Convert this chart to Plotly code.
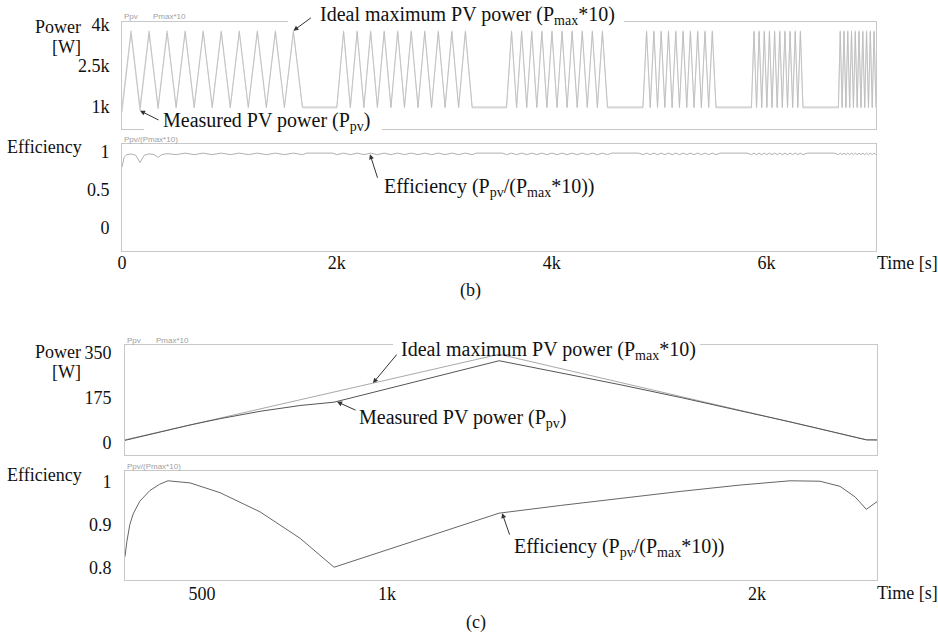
import plotly.graph_objects as go

FW, FH = 938, 637

# ---------------- panel (b) data ----------------
b_t = [
    0, 84, 168, 252, 336, 420, 504, 588, 672, 756, 840, 924, 1008, 1092, 1176, 1260, 1344, 1428, 1512, 1596, 1680,
    2000, 2063, 2126, 2189, 2252, 2315, 2378, 2441, 2504, 2567, 2630, 2693, 2756, 2819, 2882, 2945, 3008, 3071, 3134, 3197, 3260,
    3580, 3627, 3674, 3721, 3768, 3815, 3862, 3909, 3956, 4003, 4050, 4097, 4144, 4191, 4238, 4285, 4332, 4379, 4426, 4473, 4520,
    4850, 4884, 4918, 4952, 4986, 5020, 5054, 5088, 5122, 5156, 5190, 5224, 5258, 5292, 5326, 5360, 5394, 5428, 5462, 5496, 5530,
    5860, 5884, 5908, 5932, 5956, 5980, 6004, 6028, 6052, 6076, 6100, 6124, 6148, 6172, 6196, 6220, 6244, 6268, 6292, 6316, 6340,
    6670, 6687, 6705, 6722, 6740, 6757, 6775, 6792, 6810, 6827, 6845, 6862, 6880, 6897, 6915, 6932, 6950, 6967, 6985, 7002, 7020,
]
b_ideal = [
    1000, 3790, 1000, 3790, 1000, 3790, 1000, 3790, 1000, 3790, 1000, 3790, 1000, 3790, 1000, 3790, 1000, 3790, 1000, 3790, 1000,
    1000, 3790, 1000, 3790, 1000, 3790, 1000, 3790, 1000, 3790, 1000, 3790, 1000, 3790, 1000, 3790, 1000, 3790, 1000, 3790, 1000,
    1000, 3790, 1000, 3790, 1000, 3790, 1000, 3790, 1000, 3790, 1000, 3790, 1000, 3790, 1000, 3790, 1000, 3790, 1000, 3790, 1000,
    1000, 3790, 1000, 3790, 1000, 3790, 1000, 3790, 1000, 3790, 1000, 3790, 1000, 3790, 1000, 3790, 1000, 3790, 1000, 3790, 1000,
    1000, 3790, 1000, 3790, 1000, 3790, 1000, 3790, 1000, 3790, 1000, 3790, 1000, 3790, 1000, 3790, 1000, 3790, 1000, 3790, 1000,
    1000, 3790, 1000, 3790, 1000, 3790, 1000, 3790, 1000, 3790, 1000, 3790, 1000, 3790, 1000, 3790, 1000, 3790, 1000, 3790, 1000,
]
b_meas = [
    800, 3695, 860, 3695, 930, 3707, 965, 3733, 965, 3733, 965, 3733, 965, 3733, 965, 3733, 965, 3733, 965, 3733, 965,
    965, 3733, 965, 3733, 965, 3733, 965, 3733, 965, 3733, 965, 3733, 965, 3733, 965, 3733, 965, 3733, 965, 3733, 965,
    965, 3733, 965, 3733, 965, 3733, 965, 3733, 965, 3733, 965, 3733, 965, 3733, 965, 3733, 965, 3733, 965, 3733, 965,
    965, 3733, 965, 3733, 965, 3733, 965, 3733, 965, 3733, 965, 3733, 965, 3733, 965, 3733, 965, 3733, 965, 3733, 965,
    965, 3733, 965, 3733, 965, 3733, 965, 3733, 965, 3733, 965, 3733, 965, 3733, 965, 3733, 965, 3733, 965, 3733, 965,
    965, 3733, 965, 3733, 965, 3733, 965, 3733, 965, 3733, 965, 3733, 965, 3733, 965, 3733, 965, 3733, 965, 3733, 965,
]
b_eff = [
    0.80, 0.975, 0.86, 0.975, 0.93, 0.978, 0.965, 0.985, 0.965, 0.985, 0.965, 0.985, 0.965, 0.985, 0.965, 0.985, 0.965, 0.985, 0.965, 0.985, 0.965,
    0.965, 0.985, 0.965, 0.985, 0.965, 0.985, 0.965, 0.985, 0.965, 0.985, 0.965, 0.985, 0.965, 0.985, 0.965, 0.985, 0.965, 0.985, 0.965, 0.985, 0.965,
    0.965, 0.985, 0.965, 0.985, 0.965, 0.985, 0.965, 0.985, 0.965, 0.985, 0.965, 0.985, 0.965, 0.985, 0.965, 0.985, 0.965, 0.985, 0.965, 0.985, 0.965,
    0.965, 0.985, 0.965, 0.985, 0.965, 0.985, 0.965, 0.985, 0.965, 0.985, 0.965, 0.985, 0.965, 0.985, 0.965, 0.985, 0.965, 0.985, 0.965, 0.985, 0.965,
    0.965, 0.985, 0.965, 0.985, 0.965, 0.985, 0.965, 0.985, 0.965, 0.985, 0.965, 0.985, 0.965, 0.985, 0.965, 0.985, 0.965, 0.985, 0.965, 0.985, 0.965,
    0.965, 0.985, 0.965, 0.985, 0.965, 0.985, 0.965, 0.985, 0.965, 0.985, 0.965, 0.985, 0.965, 0.985, 0.965, 0.985, 0.965, 0.985, 0.965, 0.985, 0.965,
]
b_eff_extra_t = [20, 45, 130, 205, 300, 370, 1720, 1960, 3300, 3540, 4560, 4810, 5570, 5820, 6380, 6630]
b_eff_extra_v = [0.93, 0.965, 0.955, 0.955, 0.965, 0.965, 0.985, 0.985, 0.985, 0.985, 0.985, 0.985, 0.985, 0.985, 0.985, 0.985]

b_power_ticks = [1000, 2500, 4000]
b_power_ticktext = ["1k", "2.5k", "4k"]
b_eff_ticks = [0, 0.5, 1]
b_eff_ticktext = ["0", "0.5", "1"]
b_time_ticks = [0, 2000, 4000, 6000]
b_time_ticktext = ["0", "2k", "4k", "6k"]

# ---------------- panel (c) data ----------------
c_ideal_t = [292, 1303, 2297, 2324]
c_ideal_p = [12, 345, 12, 12]
c_t = [292, 297, 305, 314, 332, 359, 386, 408, 468, 549, 657, 765, 857, 1303,
       1468, 1630, 1792, 1954, 2089, 2170, 2224, 2265, 2295, 2324]
c_meas = [10, 11.7, 14.7, 17.8, 24.1, 33.4, 42.8, 50.4, 69.9, 94.3, 123, 145.6, 158.5, 319.8,
          273.8, 226.5, 177.2, 126, 81.9, 54.6, 36.1, 21.9, 11.9, 11.4]
c_eff = [0.825, 0.86, 0.90, 0.925, 0.955, 0.98, 0.995, 1.003, 0.998, 0.975, 0.93, 0.868, 0.80, 0.927,
         0.945, 0.962, 0.978, 0.993, 1.003, 1.002, 0.99, 0.965, 0.936, 0.954]

c_power_ticks = [0, 175, 350]
c_eff_ticks = [0.8, 0.9, 1]
c_eff_ticktext = ["0.8", "0.9", "1"]
c_time_ticks = [500, 1000, 2000]
c_time_ticktext = ["500", "1k", "2k"]

# ---------------- helpers (page pixel -> paper fraction) ----------------
def fx(p):
    return p / FW

def fy(p):
    return 1 - p / FH

SERIF = "Liberation Serif, Times New Roman, serif"
SANS = "Liberation Sans, Arial, sans-serif"
BOX = "#c8c8c8"

eff_pairs = sorted(zip(b_t + b_eff_extra_t, b_eff + b_eff_extra_v))
b_eff_t_all = [p[0] for p in eff_pairs]
b_eff_v_all = [p[1] for p in eff_pairs]

fig = go.Figure()
fig.add_trace(go.Scatter(x=b_t, y=b_ideal, mode="lines", line=dict(color="#c6c6c6", width=0.8), xaxis="x", yaxis="y"))
fig.add_trace(go.Scatter(x=b_t, y=b_meas, mode="lines", line=dict(color="#bcbcbc", width=0.7), xaxis="x", yaxis="y"))
fig.add_trace(go.Scatter(x=b_eff_t_all, y=b_eff_v_all, mode="lines", line=dict(color="#b0b0b0", width=1), xaxis="x2", yaxis="y2"))
fig.add_trace(go.Scatter(x=c_ideal_t, y=c_ideal_p, mode="lines", line=dict(color="#a8a8a8", width=1), xaxis="x3", yaxis="y3"))
fig.add_trace(go.Scatter(x=c_t, y=c_meas, mode="lines", line=dict(color="#555555", width=1), xaxis="x3", yaxis="y3"))
fig.add_trace(go.Scatter(x=c_t, y=c_eff, mode="lines", line=dict(color="#666666", width=1), xaxis="x4", yaxis="y4"))

common = dict(showline=True, mirror=True, linecolor=BOX, linewidth=1, showgrid=False, zeroline=False,
              ticks="", automargin=False, tickfont=dict(family=SERIF, size=18, color="#111"))

fig.update_layout(
    width=FW, height=FH, margin=dict(l=0, r=0, t=0, b=0, pad=0), autosize=False,
    paper_bgcolor="white", plot_bgcolor="white", showlegend=False,
    font=dict(family=SERIF, size=18, color="#111"),
    xaxis=dict(domain=[fx(122), fx(876)], anchor="y", range=[0, 7020], showticklabels=False, **common),
    yaxis=dict(domain=[fy(129), fy(22)], anchor="x", range=[190, 4110], tickvals=b_power_ticks,
               ticktext=b_power_ticktext, ticklabelstandoff=8, **common),
    xaxis2=dict(domain=[fx(122), fx(876)], anchor="y2", range=[0, 7020], tickvals=b_time_ticks,
                ticktext=b_time_ticktext, ticklabelstandoff=-5, **common),
    yaxis2=dict(domain=[fy(251), fy(144)], anchor="x2", range=[-0.303, 1.105], tickvals=b_eff_ticks,
                ticktext=b_eff_ticktext, ticklabelstandoff=8, **common),
    xaxis3=dict(domain=[fx(125), fx(877)], anchor="y3", range=[292, 2324], showticklabels=False, **common),
    yaxis3=dict(domain=[fy(455), fy(345)], anchor="x3", range=[-47, 381], tickvals=c_power_ticks,
                ticklabelstandoff=9, **common),
    xaxis4=dict(domain=[fx(125), fx(877)], anchor="y4", range=[292, 2324], tickvals=c_time_ticks,
                ticktext=c_time_ticktext, ticklabelstandoff=-3, **common),
    yaxis4=dict(domain=[fy(580), fy(471)], anchor="x4", range=[0.770, 1.026], tickvals=c_eff_ticks,
                ticktext=c_eff_ticktext, ticklabelstandoff=9, **common),
)

ann = []

def text_ann(x, y, text, xanchor="left", size=18, color="#111", family=SERIF):
    ann.append(dict(xref="paper", yref="paper", x=fx(x), y=fy(y), text=text, showarrow=False,
                    xanchor=xanchor, yanchor="middle", font=dict(family=family, size=size, color=color),
                    borderpad=0))

def arrow_ann(xr, yr, x, y, ax, ay):
    ann.append(dict(xref=xr, yref=yr, x=x, y=y, ax=ax, ay=ay, text="", showarrow=True,
                    arrowhead=2, arrowsize=1, arrowwidth=1, arrowcolor="#333", standoff=0))

# axis titles
text_ann(82, 27, "Power", xanchor="right")
text_ann(82, 47, "[W]", xanchor="right")
text_ann(83, 147, "Efficiency", xanchor="right")
text_ann(82, 352, "Power", xanchor="right")
text_ann(82, 372, "[W]", xanchor="right")
text_ann(83, 475, "Efficiency", xanchor="right")
text_ann(876, 263, "Time [s]")
text_ann(876, 593, "Time [s]")
text_ann(470, 290, "(b)", xanchor="center")
text_ann(476, 622, "(c)", xanchor="center")

# tiny trace-name labels
text_ann(123, 17, "Ppv", size=8, color="#a0a0a0", family=SANS)
text_ann(152, 17, "Pmax*10", size=8, color="#a0a0a0", family=SANS)
text_ann(123, 139, "Ppv/(Pmax*10)", size=8, color="#a0a0a0", family=SANS)
text_ann(126, 341, "Ppv", size=8, color="#a0a0a0", family=SANS)
text_ann(155, 341, "Pmax*10", size=8, color="#a0a0a0", family=SANS)
text_ann(126, 466, "Ppv/(Pmax*10)", size=8, color="#a0a0a0", family=SANS)

# white gaps in the frame where the callouts sit (drawn above axis lines)
shapes = [
    dict(type="rect", xref="paper", yref="paper", x0=fx(288), x1=fx(624), y0=fy(25), y1=fy(19),
         fillcolor="white", line=dict(width=0), layer="above"),
    dict(type="rect", xref="paper", yref="paper", x0=fx(144), x1=fx(382), y0=fy(132), y1=fy(126),
         fillcolor="white", line=dict(width=0), layer="above"),
    dict(type="rect", xref="paper", yref="paper", x0=fx(393), x1=fx(700), y0=fy(348), y1=fy(342),
         fillcolor="white", line=dict(width=0), layer="above"),
]

# callouts (b)
text_ann(319, 15, "Ideal maximum PV power (P<sub>max</sub>*10)", size=20)
text_ann(162, 121, "Measured PV power (P<sub>pv</sub>)", size=20)
text_ann(383, 188, "Efficiency (P<sub>pv</sub>/(P<sub>max</sub>*10))", size=20)
# callouts (c)
text_ann(400, 351, "Ideal maximum PV power (P<sub>max</sub>*10)", size=20)
text_ann(358, 418, "Measured PV power (P<sub>pv</sub>)", size=20)
text_ann(513, 547, "Efficiency (P<sub>pv</sub>/(P<sub>max</sub>*10))", size=20)

arrow_ann("x", "y", 1596, 3790, 19, -14)
arrow_ann("x", "y", 168, 860, 20, 10)
arrow_ann("x2", "y2", 2309, 0.97, 8, 25)
arrow_ann("x3", "y3", 962, 232.7, 25, -30)
arrow_ann("x3", "y3", 865, 160, 20, 9)
arrow_ann("x4", "y4", 1311, 0.927, 8, 23)

fig.update_layout(annotations=ann, shapes=shapes)

fig.write_html("out.html", config={"displayModeBar": False},
               post_script="document.body.style.margin='0';document.body.style.overflow='hidden';")
